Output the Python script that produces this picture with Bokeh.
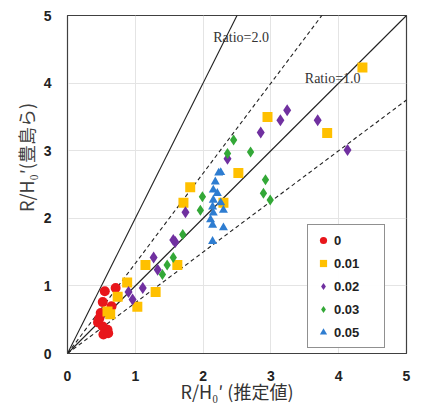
from bokeh.plotting import figure
from bokeh.models import Range1d, Label, Legend, LegendItem, FixedTicker
from bokeh.embed import file_html
from bokeh.resources import INLINE

# ---- data ----
red_x = [0.55, 0.71, 0.52, 0.65, 0.49, 0.60, 0.45, 0.52, 0.59, 0.53, 0.60, 0.47]
red_y = [0.92, 0.97, 0.76, 0.70, 0.60, 0.60, 0.46, 0.40, 0.35, 0.28, 0.30, 0.52]

org_x = [0.88, 0.74, 0.63, 1.03, 1.30, 1.15, 1.62, 0.59, 1.81, 1.71, 2.30, 2.52, 2.95, 3.83, 4.35]
org_y = [1.05, 0.84, 0.58, 0.69, 0.91, 1.31, 1.31, 0.62, 2.46, 2.23, 2.23, 2.67, 3.50, 3.26, 4.23]

pur_x = [0.90, 0.96, 1.11, 1.27, 1.33, 1.59, 1.56, 1.74, 2.36, 2.85, 3.14, 3.24, 3.69, 4.13]
pur_y = [0.91, 0.80, 0.97, 1.42, 1.24, 1.65, 1.68, 2.09, 2.88, 3.27, 3.45, 3.60, 3.45, 3.01]

grn_x = [1.70, 1.56, 1.47, 1.40, 1.99, 1.96, 2.36, 2.70, 2.45, 2.92, 2.89, 2.99]
grn_y = [1.76, 1.42, 1.31, 1.17, 2.32, 2.12, 2.96, 2.98, 3.16, 2.57, 2.37, 2.27]

blu_x = [2.26, 2.18, 2.15, 2.21, 2.15, 2.26, 2.14, 2.30, 2.15, 2.11, 2.14, 2.30, 2.14, 2.23]
blu_y = [2.68, 2.54, 2.42, 2.37, 2.27, 2.23, 2.17, 2.12, 2.08, 1.98, 1.90, 1.86, 1.66, 2.67]

series_labels = ["0", "0.01", "0.02", "0.03", "0.05"]
ratios = [2.0, 1.333, 1.0, 0.75]
ratio_dash = ["solid", "4 3", "solid", "4 3"]
ticks = [0, 1, 2, 3, 4, 5]

p = figure(width=419, height=406, output_backend="svg", toolbar_location=None,
           x_range=Range1d(0, 5), y_range=Range1d(0, 5),
           min_border_left=67, min_border_right=13, min_border_top=15, min_border_bottom=52)

p.background_fill_color = "white"
p.outline_line_color = "#404040"
p.outline_line_width = 1.2

for ax in (p.xaxis[0], p.yaxis[0]):
    ax.ticker = FixedTicker(ticks=ticks)
    ax.major_tick_line_color = None
    ax.minor_tick_line_color = None
    ax.major_tick_out = 0
    ax.major_tick_in = 0
    ax.minor_tick_out = 0
    ax.minor_tick_in = 0
    ax.axis_line_color = "#404040"
    ax.major_label_text_font = "Liberation Sans"
    ax.major_label_text_font_style = "bold"
    ax.major_label_text_font_size = "14px"
    ax.major_label_text_color = "#222222"

p.xaxis.major_label_standoff = 17
p.yaxis.major_label_standoff = 16

p.xaxis.axis_label = "R/H\u2080\u2032 (推定値)"
p.xaxis.axis_label_text_font = "Noto Sans CJK JP"
p.xaxis.axis_label_text_font_style = "normal"
p.xaxis.axis_label_text_font_size = "18px"
p.xaxis.axis_label_text_color = "#333333"
p.xaxis.axis_label_standoff = -6

p.yaxis.axis_label = "\u3000\u3000\u3000R/H\u2080\u2032(豊島ら)"
p.yaxis.axis_label_text_font = "Noto Sans CJK JP"
p.yaxis.axis_label_text_font_style = "normal"
p.yaxis.axis_label_text_font_size = "18px"
p.yaxis.axis_label_text_color = "#404040"
p.yaxis.axis_label_standoff = 2

p.grid.grid_line_color = "#e4e4e4"
p.grid.grid_line_width = 1

for r, d in zip(ratios, ratio_dash):
    p.line([0, 5], [0, 5 * r], line_color="#222222", line_width=1.1, line_dash=d)

p.add_layout(Label(x=2.15, y=4.68, text="Ratio=2.0", text_font="Liberation Serif",
                   text_font_size="14px", text_color="#333333", text_baseline="middle"))
p.add_layout(Label(x=3.50, y=4.07, text="Ratio=1.0", text_font="Liberation Serif",
                   text_font_size="14px", text_color="#333333", text_baseline="middle"))

r0 = p.scatter(red_x, red_y, marker="circle", size=10, fill_color="#e8161b", line_color=None)
r1 = p.scatter(org_x, org_y, marker="square", size=10, fill_color="#ffc000", line_color=None)
r2 = p.scatter(pur_x, pur_y, marker="diamond", size=12, fill_color="#7030a0", line_color=None)
r3 = p.scatter(grn_x, grn_y, marker="diamond", size=11, fill_color="#33a837", line_color=None)
r4 = p.scatter(blu_x, blu_y, marker="triangle", size=9, fill_color="#2e7dd1", line_color=None)

legend = Legend(items=[LegendItem(label=l, renderers=[r]) for l, r in
                       zip(series_labels, [r0, r1, r2, r3, r4])],
                location=(240, 5))
legend.border_line_color = "#222222"
legend.border_line_width = 1
legend.label_text_font = "Liberation Sans"
legend.label_text_font_style = "bold"
legend.label_text_font_size = "13px"
legend.label_text_color = "#222222"
legend.glyph_width = 18
legend.glyph_height = 18
legend.label_height = 18
legend.spacing = 5
legend.padding = 6
legend.margin = 0
legend.label_standoff = 2
legend.label_width = 44
p.add_layout(legend, "center")

open("out.html", "w").write(file_html(p, INLINE))
